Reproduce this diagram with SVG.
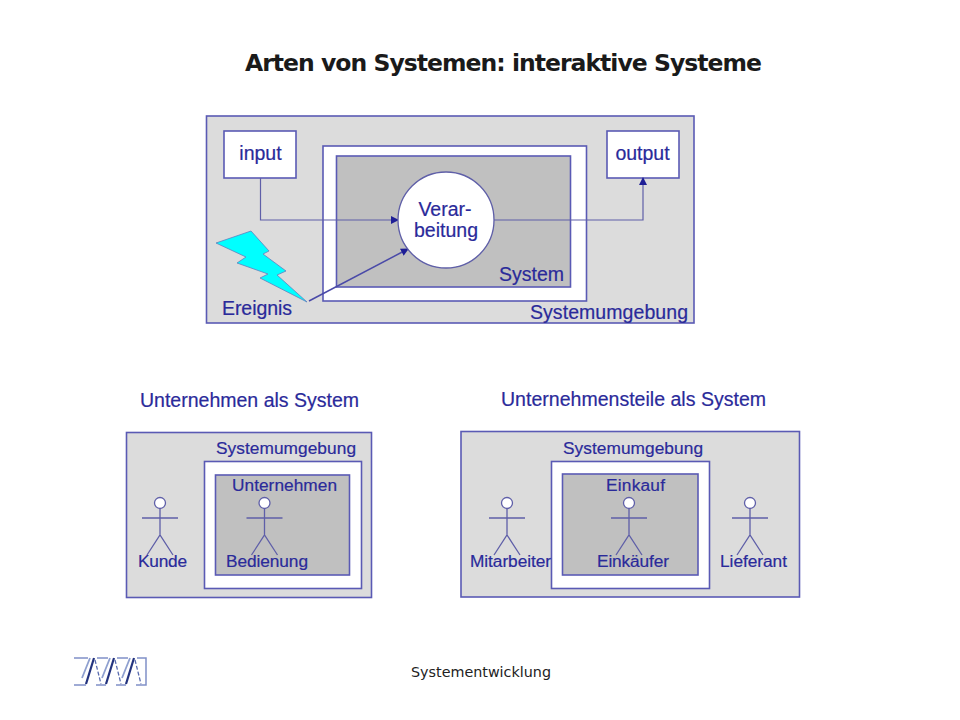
<svg xmlns="http://www.w3.org/2000/svg" width="960" height="720" viewBox="0 0 960 720">
<style>
text{font-family:"Liberation Sans",Arial,sans-serif;fill:#2a2a9a;stroke:#2a2a9a;stroke-width:.2}
.env{fill:#dcdcdc;stroke:#5a5ab4;stroke-width:1.6}
.wh{fill:#fff;stroke:#5a5ab4;stroke-width:1.6}
.sys{fill:#c0c0c0;stroke:#5a5ab4;stroke-width:1.6}
.c{fill:none;stroke:#5f5fa8;stroke-width:1.2}
.a{fill:none;stroke:#5f5fa8;stroke-width:1.3}
.h{fill:#fff;stroke:#5f5fa8;stroke-width:1.3}
.t{font-size:19.5px}.m{font-size:17.3px}
</style>
<defs>
<marker id="arr" viewBox="0 0 8 8" refX="7" refY="4" markerWidth="8" markerHeight="8" markerUnits="userSpaceOnUse" orient="auto"><path d="M0 0L8 4L0 8Z" fill="#1e1e96"/></marker>
<g id="actor"><circle class="h" cx="0" cy="0" r="5.5"/><path class="a" d="M0 5.500V32M-18 15H18M-13 52L0 32L13 52"/></g>
</defs>
<text x="245" y="71" style="font-family:'DejaVu Sans',sans-serif;font-weight:bold;font-size:23.5px;fill:#1a1a1a;stroke:none" textLength="517" lengthAdjust="spacing">Arten von Systemen: interaktive Systeme</text>

<g id="top-environment"><rect class="env" x="206.500" y="116" width="487.500" height="207"/><text class="t" x="530" y="319" textLength="158">Systemumgebung</text></g>
<g id="top-system"><rect class="wh" x="323" y="146" width="263.500" height="155"/><rect class="sys" x="336.500" y="156" width="234" height="131"/><text class="t" x="499" y="281" textLength="65">System</text></g>
<g id="input"><rect class="wh" x="224" y="131" width="72" height="47"/><text class="t" x="260.500" y="160" text-anchor="middle">input</text></g>
<g id="output"><rect class="wh" x="607" y="131" width="72" height="47"/><text class="t" x="642.500" y="160" text-anchor="middle">output</text></g>
<g id="ereignis"><polygon points="216,243 251,231 269,251 263,254 286,271 277,275 307,302 260,278 268,274 237,263 246,257" fill="#00ffff" stroke="#5f80c0" stroke-width="0.800"/><text class="t" x="222" y="315" textLength="70">Ereignis</text></g>
<g id="connectors">
<path class="c" d="M260.500 178V220H398" marker-end="url(#arr)"/>
<path class="c" d="M494 220H643V178" marker-end="url(#arr)"/>
<path d="M309 301L408 249" fill="none" stroke="#4a4aa8" stroke-width="1.500" marker-end="url(#arr)"/>
</g>
<g id="verarbeitung"><circle cx="446" cy="220" r="48" fill="#fff" stroke="#5f5fa8" stroke-width="1.300"/><text class="t" x="445" y="216" text-anchor="middle">Verar-</text><text class="t" x="446" y="237" text-anchor="middle">beitung</text></g>

<text class="t" x="140" y="407" textLength="219">Unternehmen als System</text>
<g id="left-environment"><rect class="env" x="126.500" y="432.500" width="245" height="165"/><text class="m" x="216" y="454" textLength="140">Systemumgebung</text></g>
<g id="left-system"><rect class="wh" x="204.500" y="461.500" width="157" height="127"/><rect class="sys" x="215.500" y="475" width="134" height="100"/><text class="m" x="232" y="491" textLength="105">Unternehmen</text></g>
<g id="kunde"><use href="#actor" x="160" y="503"/><text class="m" x="138" y="567" textLength="49">Kunde</text></g>
<g id="bedienung"><use href="#actor" x="264.500" y="503"/><text class="m" x="226" y="567" textLength="82">Bedienung</text></g>

<text class="t" x="501" y="406" textLength="265">Unternehmensteile als System</text>
<g id="right-environment"><rect class="env" x="461" y="431.500" width="338.500" height="165.500"/><text class="m" x="563" y="454" textLength="140">Systemumgebung</text></g>
<g id="right-system"><rect class="wh" x="551.500" y="461.500" width="158" height="127"/><rect class="sys" x="562.500" y="474" width="135.500" height="101"/><text class="m" x="606" y="491" textLength="59">Einkauf</text></g>
<g id="mitarbeiter"><use href="#actor" x="507" y="503"/><text class="m" x="470" y="567" textLength="81">Mitarbeiter</text></g>
<g id="einkaeufer"><use href="#actor" x="629" y="503"/><text class="m" x="597" y="567" textLength="72">Einkäufer</text></g>
<g id="lieferant"><use href="#actor" x="750" y="503"/><text class="m" x="720" y="567" textLength="67">Lieferant</text></g>

<g id="logo" fill="none">
<path stroke="#8090c8" stroke-width="1.500" d="M74 658H88M97 658H108M117 658H128M137 658H146V685H136M126 685H116M106 685H96M86 685H74"/>
<path stroke="#24347f" stroke-width="2.200" d="M94 658L86 684M114 658L106 684M134 658L126 684"/>
<path stroke="#8fa0d0" stroke-width="1.800" d="M90 658L82 678M110 658L102 678M130 658L122 678"/>
<path stroke="#5a6cb0" stroke-width="1.300" stroke-dasharray="4 2" d="M95 660L101 684M115 660L121 684M135 660L141 684"/>
</g>
<text x="481" y="677" text-anchor="middle" style="font-family:'DejaVu Sans',sans-serif;font-size:14px;fill:#222;stroke:none" textLength="140" lengthAdjust="spacingAndGlyphs">Systementwicklung</text>
</svg>
